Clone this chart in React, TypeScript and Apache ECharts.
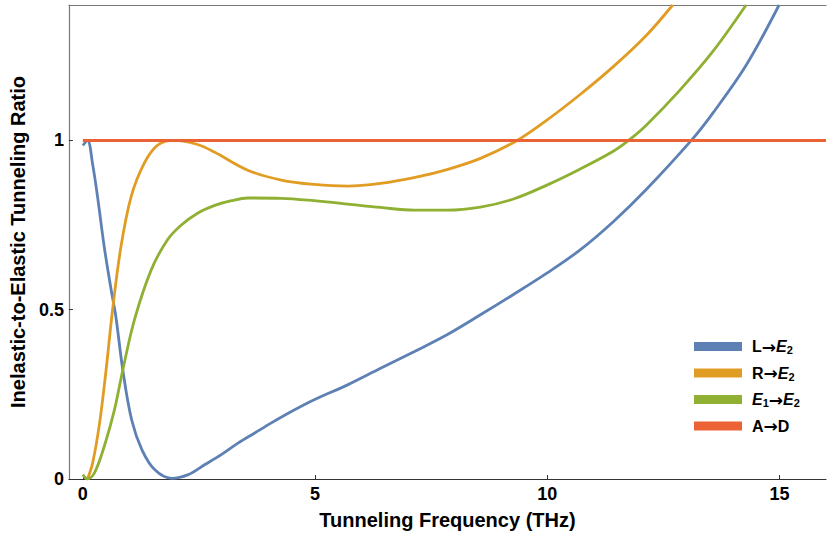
import React, { useEffect, useRef } from "react";
import * as echarts from "echarts";

// ---- Data ----
const blueX = [0, 0.1, 0.21, 0.32, 0.46, 0.61, 0.71, 0.86, 1.05, 1.27, 1.55, 1.91, 2.27, 2.62, 2.98, 3.34, 3.7, 4.05, 4.5, 4.98, 5.7, 6.41, 7.13, 7.84, 8.56, 9.27, 9.99, 10.7, 11.42, 12.13, 13.1, 13.56, 14.28, 14.99];
const blueY = [0.985, 1.0, 0.93, 0.83, 0.686, 0.558, 0.48, 0.322, 0.175, 0.087, 0.027, 0.002, 0.013, 0.042, 0.072, 0.106, 0.136, 0.165, 0.2, 0.234, 0.278, 0.327, 0.376, 0.426, 0.485, 0.545, 0.608, 0.676, 0.76, 0.855, 1.0, 1.08, 1.222, 1.4];

const orangeX = [0.1, 0.21, 0.36, 0.5, 0.64, 0.82, 1.04, 1.32, 1.61, 1.97, 2.47, 2.84, 3.55, 4.27, 4.98, 5.7, 6.41, 7.13, 7.84, 8.56, 9.35, 9.99, 10.7, 11.42, 12.13, 12.7];
const orangeY = [0, 0.047, 0.165, 0.322, 0.5, 0.686, 0.834, 0.932, 0.986, 1.0, 0.988, 0.965, 0.912, 0.883, 0.87, 0.865, 0.873, 0.89, 0.914, 0.947, 1.0, 1.06, 1.135, 1.218, 1.31, 1.4];

const greenX = [0, 0.1, 0.25, 0.46, 0.68, 0.86, 1.11, 1.47, 1.82, 2.12, 2.47, 2.84, 3.2, 3.55, 4.27, 4.98, 5.7, 6.41, 7.13, 7.84, 8.56, 9.27, 9.99, 10.7, 11.42, 11.75, 12.13, 12.85, 13.56, 14.28];
const greenY = [0.013, 0, 0.018, 0.096, 0.204, 0.322, 0.47, 0.617, 0.706, 0.75, 0.785, 0.808, 0.822, 0.83, 0.829, 0.822, 0.812, 0.802, 0.794, 0.794, 0.803, 0.827, 0.868, 0.915, 0.968, 1.0, 1.045, 1.148, 1.262, 1.4];

const redX = [0, 16];
const redY = [1, 1];

const seriesNames = ["L→E2", "R→E2", "E1→E2", "A→D"];
const xTicks = [0, 5, 10, 15];
const yTicks = [0, 0.5, 1];

const legendRich: Record<string, string> = {
  "L→E2": "{g|}{n|L}{a|→}{i|E}{s|2}",
  "R→E2": "{g|}{n|R}{a|→}{i|E}{s|2}",
  "E1→E2": "{g|}{i|E}{s|1}{a|→}{i|E}{s|2}",
  "A→D": "{g|}{n|A}{a|→}{n|D}",
};

const FONT = "'Liberation Sans', Arial, sans-serif";

const zip = (xs: number[], ys: number[]) => xs.map((x, i) => [x, ys[i]]);

export default function App() {
  const ref = useRef<HTMLDivElement>(null);
  useEffect(() => {
    if (!ref.current) return;
    const chart = echarts.init(ref.current, undefined, { renderer: "svg" });
    const colors = ["#5E81B5", "#E19C24", "#8FB032", "#EB6235"];
    const datas = [zip(blueX, blueY), zip(orangeX, orangeY), zip(greenX, greenY), zip(redX, redY)];
    const txt = { fontWeight: "bold", color: "#000", fontFamily: FONT };
    chart.setOption({
      animation: false,
      backgroundColor: "#fff",
      grid: { left: 67, right: 1, top: 5, bottom: 59 },
      xAxis: [
        {
          type: "value",
          min: -0.3,
          max: 16,
          name: "Tunneling Frequency (THz)",
          nameLocation: "middle",
          nameGap: 31,
          nameTextStyle: { ...txt, fontSize: 20 },
          axisLine: { show: true, onZero: false, lineStyle: { color: "#333", width: 1.2 } },
          axisTick: { show: true, inside: true, length: 4, customValues: xTicks, lineStyle: { color: "#333" } },
          axisLabel: { customValues: xTicks, margin: 6, fontSize: 18, ...txt },
          splitLine: { show: false },
        },
        {
          type: "value",
          position: "top",
          min: -0.3,
          max: 16,
          axisLine: { show: true, onZero: false, lineStyle: { color: "#777", width: 1.2 } },
          axisTick: { show: false },
          axisLabel: { show: false },
          splitLine: { show: false },
        },
      ],
      yAxis: {
        type: "value",
        min: 0,
        max: 1.4,
        name: "Inelastic-to-Elastic Tunneling Ratio",
        nameLocation: "middle",
        nameGap: 37,
        nameTextStyle: { ...txt, fontSize: 20 },
        axisLine: { show: true, onZero: false, lineStyle: { color: "#777", width: 1.2 } },
        axisTick: { show: true, inside: true, length: 4, customValues: yTicks, lineStyle: { color: "#333" } },
        axisLabel: {
          customValues: yTicks,
          margin: 5,
          fontSize: 18,
          ...txt,
          formatter: (v: number) => String(v),
        },
        splitLine: { show: false },
      },
      legend: {
        orient: "vertical",
        left: 694,
        top: 338,
        padding: 0,
        itemWidth: 48,
        itemHeight: 9,
        itemGap: 9,
        icon: "rect",
        data: seriesNames,
        formatter: (name: string) => legendRich[name] || name,
        textStyle: {
          fontSize: 16,
          ...txt,
          rich: {
            g: { width: 5 },
            n: { ...txt, fontSize: 16, lineHeight: 18 },
            a: { fontWeight: "bold", color: "#000", fontFamily: "'DejaVu Sans', sans-serif", fontSize: 17, lineHeight: 18 },
            i: { ...txt, fontSize: 16, fontStyle: "italic", lineHeight: 18 },
            s: { ...txt, fontSize: 11, lineHeight: 11, verticalAlign: "bottom" },
          },
        },
      },
      series: seriesNames.map((name, k) => ({
        name,
        type: "line",
        xAxisIndex: 0,
        data: datas[k],
        smooth: 0.35,
        showSymbol: false,
        symbol: "none",
        color: colors[k],
        lineStyle: { color: colors[k], width: k === 3 ? 3 : 2.8 },
        clip: true,
        z: 2 + k,
      })),
    });
    return () => chart.dispose();
  }, []);
  return <div ref={ref} style={{ position: "fixed", left: 0, top: 0, width: 827, height: 538 }} />;
}
